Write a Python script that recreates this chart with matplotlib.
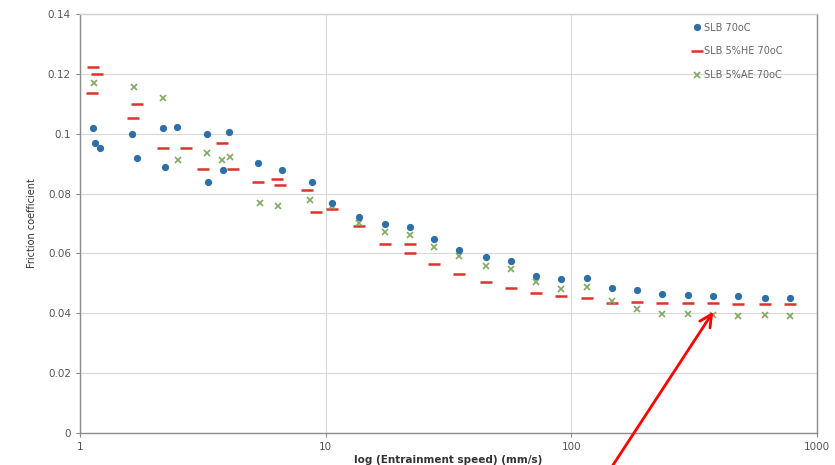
import numpy as np
import matplotlib
matplotlib.use("Agg")
import matplotlib.pyplot as plt
from matplotlib.ticker import FixedLocator, NullLocator, FuncFormatter

# SLB 70oC
x_slb = [1.129, 1.151, 1.206, 1.627, 1.705, 2.175, 2.479, 2.216, 3.283, 4.034, 3.813, 3.313,
         5.292, 6.624, 8.772, 10.58, 13.62, 17.37, 21.96, 27.74, 35.05, 45.13, 57.03, 72.07,
         91.06, 116.1, 146.8, 185.5, 234.4, 298.9, 377.7, 477.5, 614.6, 776.8]
y_slb = [0.102, 0.097, 0.0953, 0.100, 0.092, 0.102, 0.1023, 0.089, 0.100, 0.1007, 0.088, 0.084,
         0.0903, 0.0877, 0.0837, 0.077, 0.0723, 0.0697, 0.0687, 0.0647, 0.0613, 0.0587, 0.0573, 0.0523,
         0.0513, 0.0517, 0.0483, 0.0477, 0.0463, 0.046, 0.0457, 0.0457, 0.045, 0.045]

# SLB 5%HE 70oC
x_he = [1.129, 1.172, 1.119, 1.643, 1.705, 2.175, 2.698, 3.777, 3.162, 4.188, 5.292, 6.322,
        6.501, 8.373, 9.107, 10.58, 13.62, 17.37, 21.96, 21.96, 27.74, 35.05, 45.13, 57.03,
        72.07, 91.06, 116.1, 146.8, 185.5, 234.4, 298.9, 377.7, 477.5, 614.6, 776.8]
y_he = [0.1223, 0.120, 0.1137, 0.1053, 0.110, 0.0953, 0.0953, 0.097, 0.0883, 0.0883, 0.084, 0.0847,
        0.0827, 0.0813, 0.0737, 0.0747, 0.069, 0.0633, 0.0603, 0.0633, 0.0563, 0.053, 0.0503, 0.0483,
        0.0467, 0.0457, 0.045, 0.0433, 0.0437, 0.0433, 0.0433, 0.0433, 0.043, 0.043, 0.043]

# SLB 5%AE 70oC
x_ae = [1.140, 1.658, 2.175, 2.502, 3.283, 4.071, 3.777, 5.392, 6.381, 8.610, 10.58, 13.62,
        17.37, 21.96, 27.74, 35.05, 45.13, 57.03, 72.07, 91.06, 116.1, 146.8, 185.5, 234.4,
        298.9, 377.7, 477.5, 614.6, 776.8]
y_ae = [0.117, 0.1157, 0.112, 0.0913, 0.0937, 0.0923, 0.0913, 0.077, 0.0757, 0.078, 0.0757, 0.070,
        0.067, 0.0663, 0.0623, 0.059, 0.0557, 0.0547, 0.0503, 0.048, 0.0487, 0.044, 0.0413, 0.0397,
        0.0397, 0.0393, 0.039, 0.0393, 0.039]

y_ticks = [0, 0.02, 0.04, 0.06, 0.08, 0.1, 0.12, 0.14]
x_ticks = [1, 10, 100, 1000]

fig = plt.figure(figsize=(8.35, 4.65), dpi=100)
ax = fig.add_axes([0.0958, 0.0688, 0.8825, 0.9012])

ax.plot(x_slb, y_slb, 'o', color='#2f6fa8', markersize=4.2, label='SLB 70oC', zorder=4)
ax.plot(x_he, y_he, '_', color='#e0302a', markersize=8, markeredgewidth=1.8, label='SLB 5%HE 70oC', zorder=3)
ax.plot(x_ae, y_ae, 'x', color='#7fa860', markersize=4, markeredgewidth=1.2, label='SLB 5%AE 70oC', zorder=3)

ax.set_xscale('log')
ax.set_xlim(1, 1000)
ax.set_ylim(0, 0.14)
ax.xaxis.set_major_locator(FixedLocator(x_ticks))
ax.xaxis.set_minor_locator(NullLocator())
ax.xaxis.set_major_formatter(FuncFormatter(lambda v, p: '%g' % v))
ax.yaxis.set_major_locator(FixedLocator(y_ticks))
ax.yaxis.set_major_formatter(FuncFormatter(lambda v, p: '%g' % v))

ax.grid(True, color='#d9d9d9', linewidth=0.8)
ax.set_axisbelow(True)
for s in ax.spines.values():
    s.set_color('#8c8c8c')
    s.set_linewidth(1.0)
ax.spines['top'].set_color('#d0d0d0')
ax.tick_params(axis='both', colors='#8c8c8c', labelcolor='#555555', labelsize=7.5, length=3, direction='out')

ax.set_xlabel('log (Entrainment speed) (mm/s)', fontsize=7.5, fontweight='bold', color='#333333', labelpad=2)
ax.set_ylabel('Friction coefficient', fontsize=7, color='#333333', labelpad=8)

leg = ax.legend(loc='upper right', bbox_to_anchor=(0.962, 0.995), frameon=False, fontsize=7,
                handlelength=0.8, handletextpad=0.3, labelspacing=1.4, borderaxespad=0.3)
for t in leg.get_texts():
    t.set_color('#666666')

ax.annotate('', xy=(384, 0.0413), xycoords='data',
            xytext=(610 / 835, -0.01), textcoords='figure fraction',
            arrowprops=dict(arrowstyle='->', color='#ff0000', lw=2, mutation_scale=22),
            annotation_clip=False)

fig.savefig('out.png', dpi=100)
